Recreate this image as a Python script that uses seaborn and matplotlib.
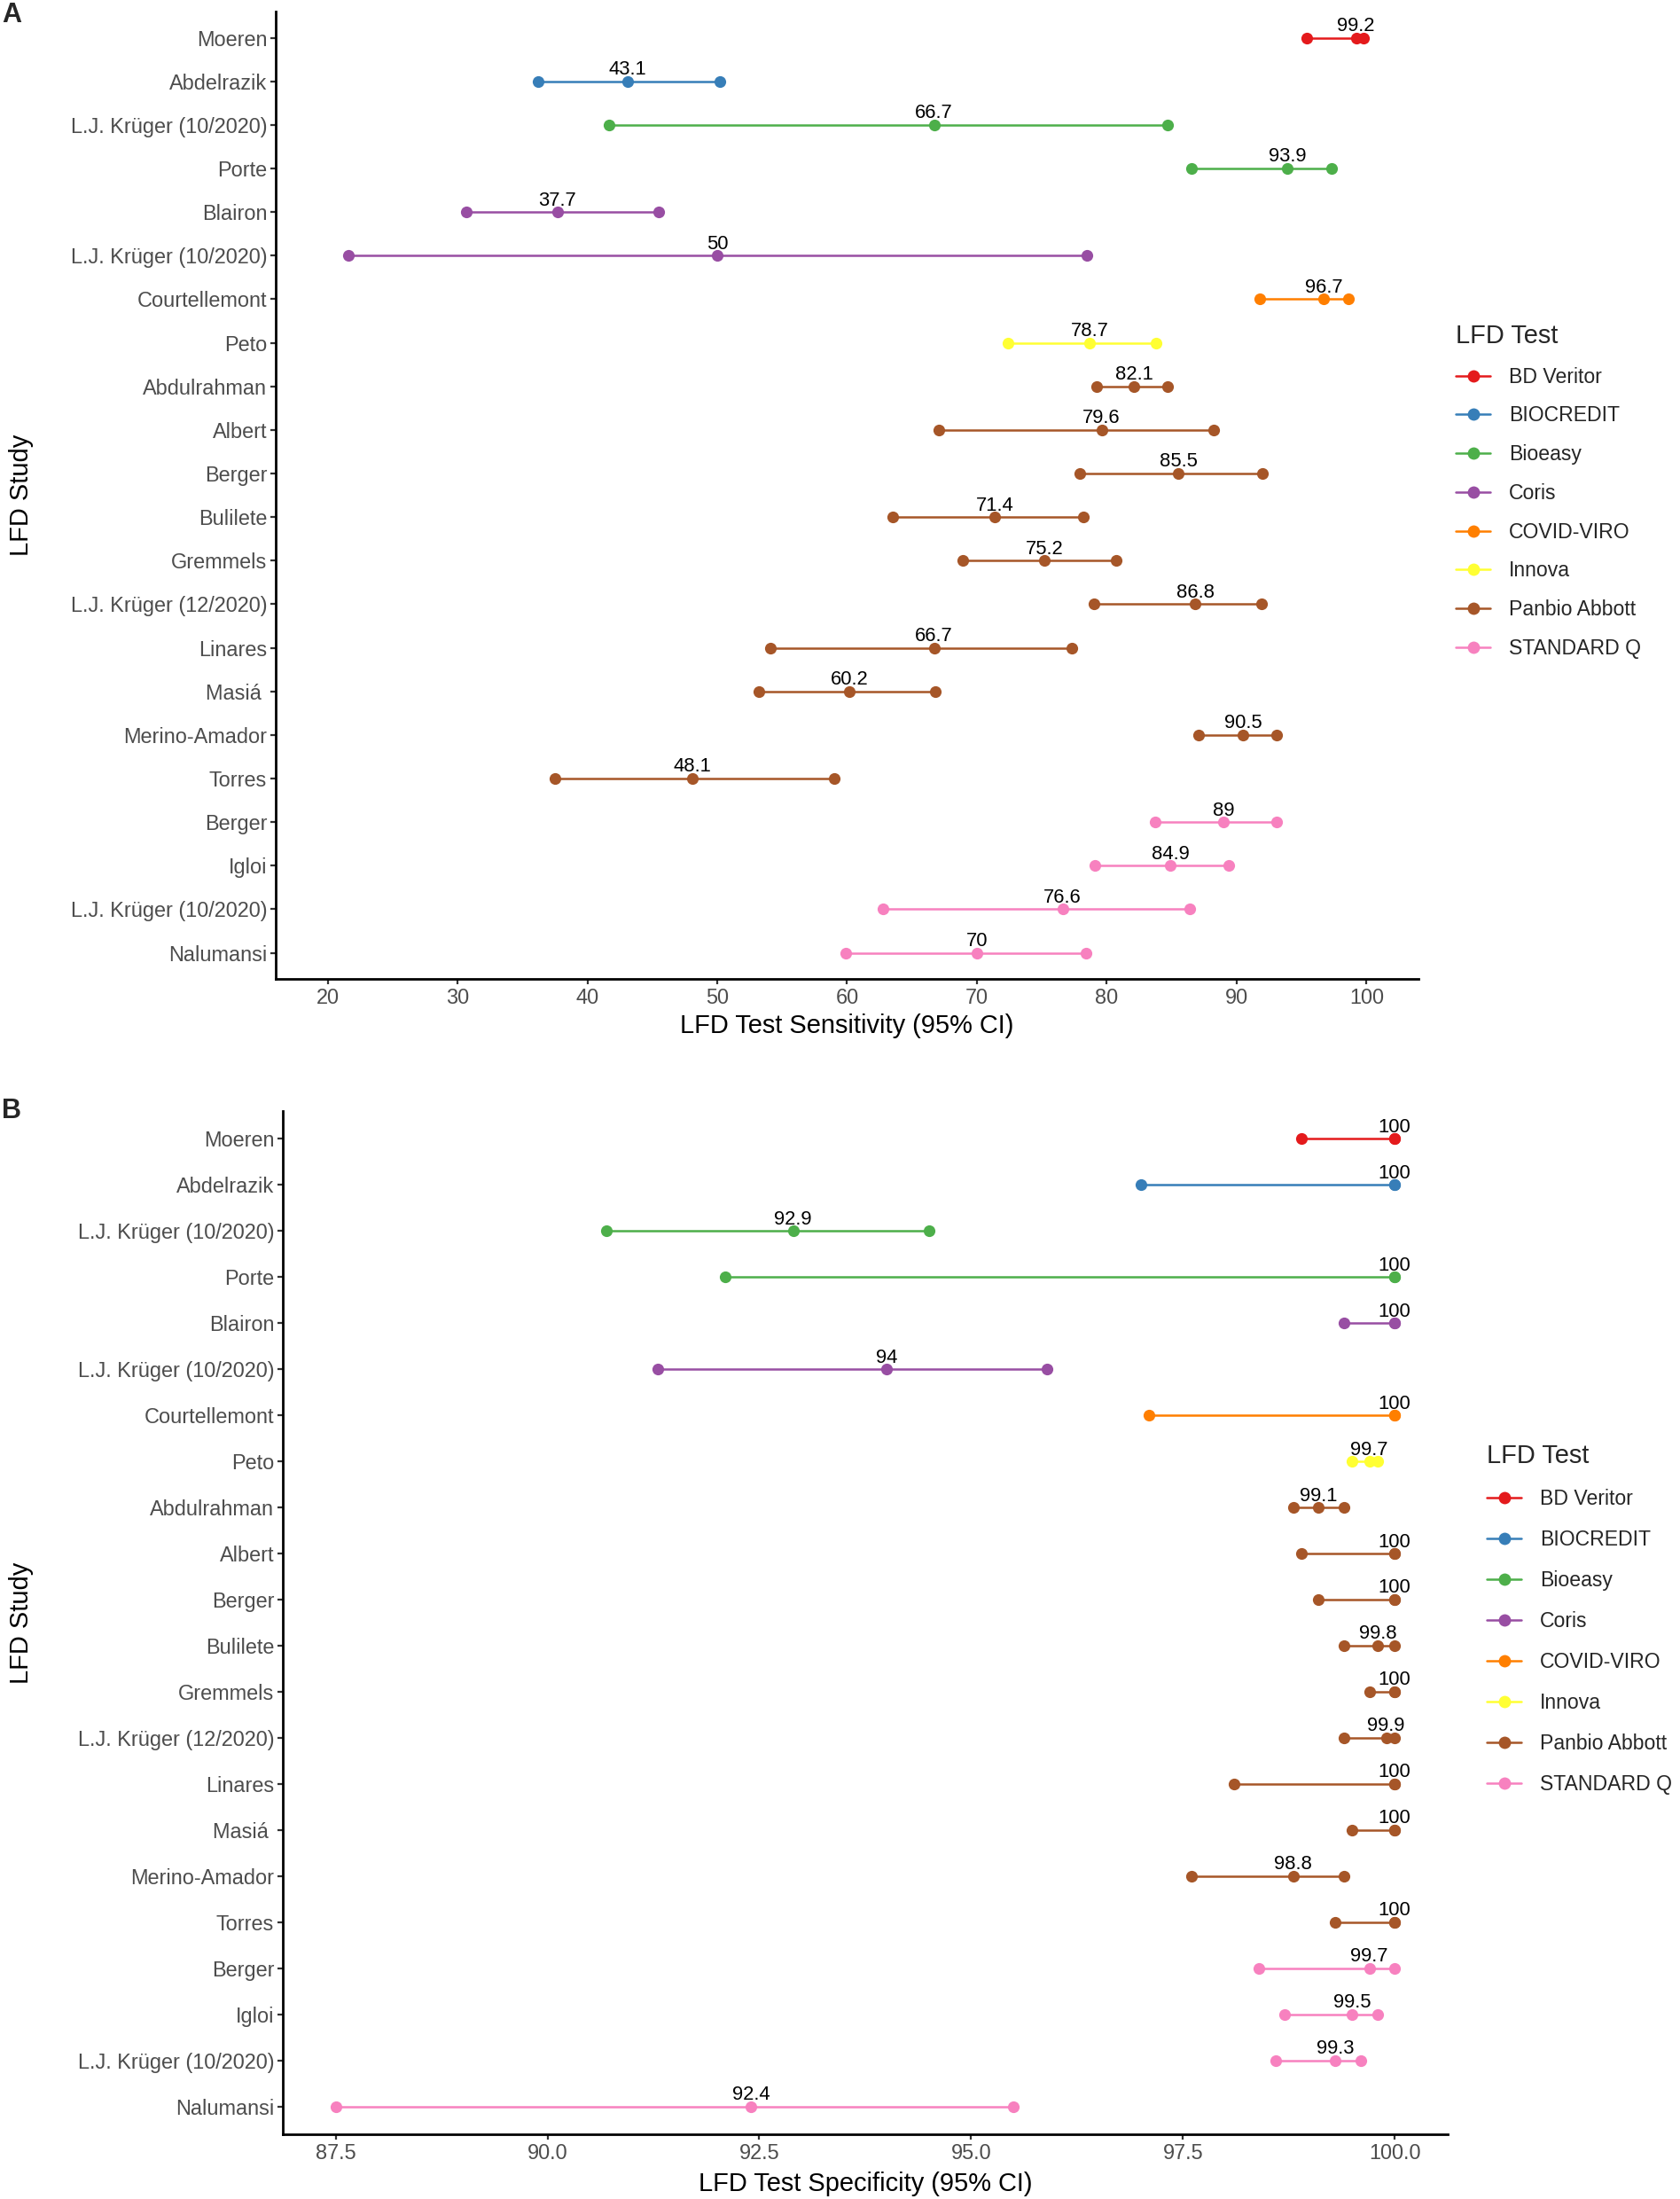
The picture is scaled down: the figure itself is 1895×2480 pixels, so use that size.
import pandas as pd
import matplotlib.pyplot as plt
import seaborn as sns

# study rows (top to bottom), one per LFD test evaluation
studies = ["Moeren", "Abdelrazik", "L.J. Krüger (10/2020)", "Porte", "Blairon",
           "L.J. Krüger (10/2020)", "Courtellemont", "Peto", "Abdulrahman", "Albert",
           "Berger", "Bulilete", "Gremmels", "L.J. Krüger (12/2020)", "Linares", "Masiá ",
           "Merino-Amador", "Torres", "Berger", "Igloi", "L.J. Krüger (10/2020)", "Nalumansi"]
tests = (["BD Veritor", "BIOCREDIT", "Bioeasy", "Bioeasy", "Coris", "Coris",
          "COVID-VIRO", "Innova"] + ["Panbio Abbott"] * 10 + ["STANDARD Q"] * 4)

test_order = ["BD Veritor", "BIOCREDIT", "Bioeasy", "Coris", "COVID-VIRO",
              "Innova", "Panbio Abbott", "STANDARD Q"]
test_colors = ["#E41A1C", "#377EB8", "#4DAF4A", "#984EA3", "#FF7F00",
               "#FFFF33", "#A65628", "#F781BF"]

# sensitivity (%), 95% CI
sens_est = [99.2, 43.1, 66.7, 93.9, 37.7, 50, 96.7, 78.7, 82.1, 79.6, 85.5,
            71.4, 75.2, 86.8, 66.7, 60.2, 90.5, 48.1, 89, 84.9, 76.6, 70]
sens_lo = [95.4, 36.2, 41.7, 86.5, 30.7, 21.6, 91.8, 72.4, 79.2, 67.1, 77.9,
           63.5, 68.9, 79.0, 54.1, 53.2, 87.1, 37.5, 83.7, 79.1, 62.8, 59.9]
sens_hi = [99.8, 50.2, 84.7, 97.3, 45.5, 78.5, 98.6, 83.8, 84.7, 88.2, 92.0,
           78.2, 80.7, 91.9, 77.3, 66.8, 93.1, 59.0, 93.1, 89.4, 86.4, 78.4]

# specificity (%), 95% CI
spec_est = [100, 100, 92.9, 100, 100, 94, 100, 99.7, 99.1, 100, 100,
            99.8, 100, 99.9, 100, 100, 98.8, 100, 99.7, 99.5, 99.3, 92.4]
spec_lo = [98.9, 97.0, 90.7, 92.1, 99.4, 91.3, 97.1, 99.5, 98.8, 98.9, 99.1,
           99.4, 99.7, 99.4, 98.1, 99.5, 97.6, 99.3, 98.4, 98.7, 98.6, 87.5]
spec_hi = [100, 100, 94.5, 100, 100, 95.9, 100, 99.8, 99.4, 100, 100,
           100, 100, 100, 100, 100, 99.4, 100, 100, 99.8, 99.6, 95.5]

sens_ticks = [20, 30, 40, 50, 60, 70, 80, 90, 100]
spec_ticks = [87.5, 90.0, 92.5, 95.0, 97.5, 100.0]

sns.set_theme(style="ticks")
plt.rcParams["font.family"] = ["Liberation Sans", "DejaVu Sans"]

palette = dict(zip(test_order, test_colors))


def draw_panel(ax, est, lo, hi, xlabel, xlim, ticks, fmt, leg_anchor, leg_space, ylab_x):
    df = pd.DataFrame({"row": range(len(studies)), "LFD Test": tests,
                       "lo": lo, "est": est, "hi": hi})
    long_df = df.melt(id_vars=["row", "LFD Test"], value_vars=["lo", "est", "hi"],
                      value_name="value")

    sns.lineplot(data=long_df, x="value", y="row", hue="LFD Test",
                 hue_order=test_order, palette=palette, units="row",
                 estimator=None, sort=True, marker="o", markersize=9.5,
                 markeredgewidth=0, linewidth=1.8, ax=ax)

    for r, v in zip(df["row"], df["est"]):
        ax.annotate(f"{v:g}", (v, r), xytext=(0, 5.5), textcoords="offset points",
                    ha="center", va="baseline", fontsize=15.8, color="black")

    ax.set_ylim(len(studies) - 0.4, -0.6)
    ax.set_yticks(range(len(studies)))
    ax.set_yticklabels(studies)
    ax.set_xlim(*xlim)
    ax.set_xticks(ticks)
    ax.set_xticklabels([fmt.format(t) for t in ticks])

    ax.set_xlabel(xlabel, fontsize=20.9, color="black")
    ax.set_ylabel("LFD Study", fontsize=20.9, color="black")
    ax.xaxis.set_label_coords(0.5, -0.036)
    ax.xaxis.label.set_va("top")
    ax.yaxis.set_label_coords(ylab_x, 0.5)

    ax.tick_params(axis="both", labelsize=16.9, labelcolor="#4D4D4D",
                   color="#333333", width=1.6, length=4.5, pad=2.5)
    sns.despine(ax=ax)
    for s in ["left", "bottom"]:
        ax.spines[s].set_linewidth(2.0)
        ax.spines[s].set_color("black")

    sns.move_legend(ax, loc="upper left", bbox_to_anchor=leg_anchor,
                    frameon=False, title="LFD Test", fontsize=16.6,
                    title_fontsize=20.9, borderpad=0, borderaxespad=0,
                    handlelength=1.7, handletextpad=0.9, labelspacing=leg_space,
                    alignment="left")
    for h in ax.get_legend().legend_handles:
        h.set_marker("o")
        h.set_markersize(10)
        h.set_markeredgewidth(0)
        h.set_linewidth(1.8)


fig = plt.figure(figsize=(18.95, 24.8), dpi=100)

ax_a = fig.add_axes([0.1641, 0.5548, 0.6802, 0.4399])
draw_panel(ax_a, sens_est, sens_lo, sens_hi, "LFD Test Sensitivity (95% CI)",
           (16, 104), sens_ticks, "{:g}", (1.0326, 0.6775), 0.90, -0.212)

ax_b = fig.add_axes([0.1683, 0.0294, 0.6934, 0.4653])
draw_panel(ax_b, spec_est, spec_lo, spec_hi, "LFD Test Specificity (95% CI)",
           (86.875, 100.625), spec_ticks, "{:.1f}", (1.0335, 0.6754), 1.0, -0.214)

fig.text(0.001, 0.999, "A", fontsize=22, fontweight="bold", ha="left", va="top")
fig.text(0.001, 0.5008, "B", fontsize=22, fontweight="bold", ha="left", va="top")

fig.savefig("out.png", dpi=100, facecolor="white")
